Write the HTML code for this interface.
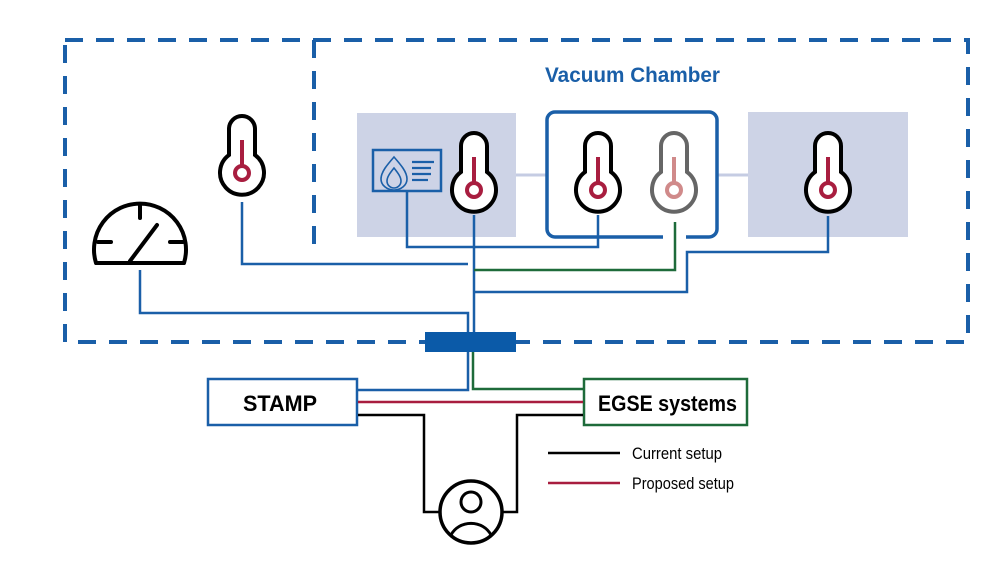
<!DOCTYPE html>
<html><head><meta charset="utf-8"><style>
html,body{margin:0;padding:0;background:#fff;}
svg{display:block;}
text{font-family:"Liberation Sans Narrow","Liberation Sans",sans-serif;}
</style></head><body>
<svg width="1000" height="563" viewBox="0 0 1000 563" xmlns="http://www.w3.org/2000/svg">
<defs>
<g id="th">
<path d="M-13,-18 V-44 A13,13 0 0 1 13,-44 V-18 A22,22 0 1 1 -13,-18 Z" fill="#fff" stroke-width="4"/>
</g>
</defs>
<rect x="65" y="40" width="903" height="302" fill="none" stroke="#1a5fa8" stroke-width="4" stroke-dasharray="18,13"/>
<line x1="314" y1="40" x2="314" y2="245" stroke="#1a5fa8" stroke-width="4" stroke-dasharray="18,13"/>
<text x="545" y="82" textLength="175" lengthAdjust="spacingAndGlyphs" font-size="21" font-weight="bold" fill="#1a5fa8">Vacuum Chamber</text>
<line x1="516" y1="175" x2="548" y2="175" stroke="#c5cce3" stroke-width="3"/>
<line x1="717" y1="175" x2="748" y2="175" stroke="#c5cce3" stroke-width="3"/>
<rect x="357" y="113" width="159" height="124" fill="#cdd3e6"/>
<rect x="748" y="112" width="160" height="125" fill="#cdd3e6"/>
<path d="M663,237 H555 A8,8 0 0 1 547,229 V120 A8,8 0 0 1 555,112 H709 A8,8 0 0 1 717,120 V229 A8,8 0 0 1 709,237 H686" fill="none" stroke="#1a5fa8" stroke-width="3.5"/>
<rect x="373" y="150" width="68" height="41" fill="none" stroke="#1a5fa8" stroke-width="2.5"/>
<path d="M394,157 C387,165 381,172 381,179 A13,11 0 0 0 407,179 C407,172 401,165 394,157 Z M394,168 C390,173 387,177 387,181 A7,7 0 0 0 401,181 C401,177 398,173 394,168 Z" fill="none" stroke="#1a5fa8" stroke-width="1.6"/>
<g stroke="#1a5fa8" stroke-width="2.2"><line x1="412" y1="162" x2="434" y2="162"/><line x1="412" y1="168" x2="431" y2="168"/><line x1="412" y1="174" x2="431" y2="174"/><line x1="412" y1="180" x2="428" y2="180"/></g>
<g fill="none" stroke="#1a5fa8" stroke-width="2.5">
<path d="M140,270 V313 H468 V390 H358"/>
<path d="M242,202 V264 H468"/>
<path d="M407,192 V247 H598 V215"/>
<path d="M474,215 V333"/>
<path d="M828,216 V252 H687 V292 H474"/>
</g>
<path d="M675,222 V270 H474" fill="none" stroke="#1e6b3a" stroke-width="2.5"/>
<path d="M473,352 V389 H583" fill="none" stroke="#1e6b3a" stroke-width="2.5"/>
<rect x="425" y="332" width="91" height="20" fill="#0b5aa8"/>
<g transform="translate(242,173)" stroke="#000"><use href="#th"/><line x1="0" y1="-33" x2="0" y2="-7" stroke="#a81d3f" stroke-width="4"/><circle r="7" fill="none" stroke="#a81d3f" stroke-width="4"/></g>
<g transform="translate(474,190)" stroke="#000"><use href="#th"/><line x1="0" y1="-33" x2="0" y2="-7" stroke="#a81d3f" stroke-width="4"/><circle r="7" fill="none" stroke="#a81d3f" stroke-width="4"/></g>
<g transform="translate(598,190)" stroke="#000"><use href="#th"/><line x1="0" y1="-33" x2="0" y2="-7" stroke="#a81d3f" stroke-width="4"/><circle r="7" fill="none" stroke="#a81d3f" stroke-width="4"/></g>
<g transform="translate(674,190)" stroke="#666"><use href="#th"/><line x1="0" y1="-33" x2="0" y2="-7" stroke="#d08a8a" stroke-width="4"/><circle r="7" fill="none" stroke="#d08a8a" stroke-width="4"/></g>
<g transform="translate(828,190)" stroke="#000"><use href="#th"/><line x1="0" y1="-33" x2="0" y2="-7" stroke="#a81d3f" stroke-width="4"/><circle r="7" fill="none" stroke="#a81d3f" stroke-width="4"/></g>
<g fill="none" stroke="#000" stroke-width="4" stroke-linecap="round">
<path d="M96,263 A46,46 0 1 1 184,263 Z" stroke-linejoin="round"/>
<line x1="140" y1="205" x2="140" y2="218"/>
<line x1="98" y1="242" x2="111" y2="242"/>
<line x1="170" y1="242" x2="183" y2="242"/>
<line x1="130" y1="261" x2="157" y2="225"/>
</g>
<rect x="208" y="379" width="149" height="46" fill="#fff" stroke="#1a5fa8" stroke-width="2.5"/>
<text x="243" y="411" textLength="74" lengthAdjust="spacingAndGlyphs" font-size="22" font-weight="bold" fill="#000">STAMP</text>
<rect x="584" y="379" width="163" height="46" fill="#fff" stroke="#1e6b3a" stroke-width="2.5"/>
<text x="598" y="411" textLength="139" lengthAdjust="spacingAndGlyphs" font-size="22" font-weight="bold" fill="#000">EGSE systems</text>
<line x1="358" y1="402" x2="583" y2="402" stroke="#a81d3f" stroke-width="2.5"/>
<path d="M358,415 H424 V512 H440 M502,512 H517 V415 H583" fill="none" stroke="#000" stroke-width="2.5"/>
<circle cx="471" cy="512" r="31" fill="none" stroke="#000" stroke-width="3.5"/>
<circle cx="471" cy="502" r="10" fill="none" stroke="#000" stroke-width="3"/>
<path d="M451,535 A22,20 0 0 1 491,535" fill="none" stroke="#000" stroke-width="3"/>
<line x1="548" y1="453" x2="620" y2="453" stroke="#000" stroke-width="2.5"/>
<line x1="548" y1="483" x2="620" y2="483" stroke="#a81d3f" stroke-width="2.5"/>
<text x="632" y="459" textLength="90" lengthAdjust="spacingAndGlyphs" font-size="17" fill="#000">Current setup</text>
<text x="632" y="489" textLength="102" lengthAdjust="spacingAndGlyphs" font-size="17" fill="#000">Proposed setup</text>
</svg>
</body></html>
